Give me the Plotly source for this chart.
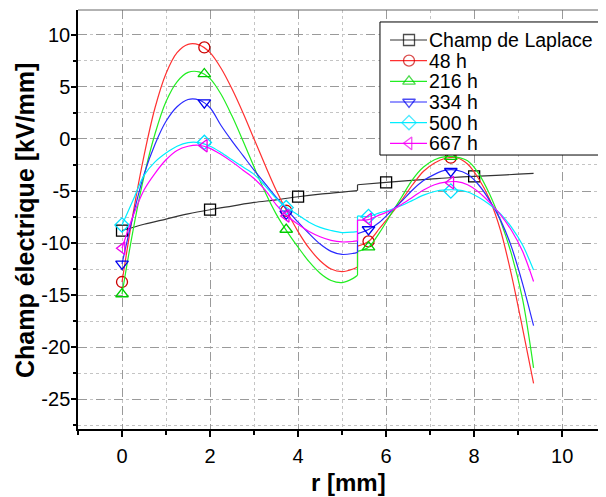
import plotly.graph_objects as go

# ---------------- data ----------------
r_left = [0, 0.25, 0.5, 0.75, 1.0, 1.25, 1.5, 1.75, 2.0, 2.25, 2.5, 2.75, 3.0,
          3.25, 3.5, 3.75, 4.0, 4.25, 4.5, 4.75, 5.0, 5.25, 5.35]
r_right = [5.35, 5.6, 5.85, 6.1, 6.35, 6.6, 6.85, 7.1, 7.35, 7.6, 7.85, 8.1,
           8.35, 8.6, 8.85, 9.1, 9.35]

e48_left = [-13.75, -7.2, -1.6, 3.0, 6.3, 8.3, 9.1, 9.05, 8.3, 6.8, 4.8, 2.5, 0.0,
            -2.5, -4.9, -7.0, -8.9, -10.5, -11.7, -12.5, -12.75, -12.5, -12.3]
e48_right = [-10.3, -9.85, -8.6, -7.3, -5.9, -4.4, -3.1, -2.3, -1.85, -1.8, -2.4, -3.8,
             -5.8, -8.8, -13.1, -18.2, -23.5]

e216_left = [-14.9, -8.8, -3.6, 0.5, 3.6, 5.5, 6.4, 6.45, 5.8, 4.3, 2.2, -0.2, -2.7,
             -5.1, -7.2, -8.9, -10.4, -11.8, -12.9, -13.6, -13.8, -13.4, -13.1]
e216_right = [-10.8, -10.4, -9.0, -7.3, -5.6, -3.9, -2.7, -2.0, -1.7, -1.75, -2.1, -3.3,
              -5.3, -7.9, -11.1, -15.4, -22.0]

e334_left = [-12.0, -7.4, -3.4, -0.5, 1.7, 3.1, 3.8, 3.75, 3.0, 1.3, -0.2, -1.6, -3.0,
             -4.3, -5.6, -6.8, -8.0, -9.1, -10.1, -10.8, -11.1, -11.0, -10.9]
e334_right = [-9.1, -8.7, -8.0, -7.0, -6.0, -4.9, -4.0, -3.4, -3.0, -3.0, -3.4, -4.4,
              -5.9, -7.8, -10.4, -13.9, -17.95]

e500_left = [-8.27, -5.9, -3.5, -2.2, -1.35, -0.7, -0.35, -0.35, -0.7, -1.3, -2.0, -2.7,
             -3.4, -4.5, -5.7, -6.6, -7.3, -8.0, -8.5, -8.8, -9.0, -8.95, -8.9]
e500_right = [-7.4, -7.45, -7.1, -6.8, -6.4, -5.9, -5.4, -5.05, -4.9, -4.9, -5.1, -5.6,
              -6.3, -7.2, -8.5, -10.2, -12.6]

e667_left = [-10.5, -7.4, -4.9, -3.3, -2.0, -1.1, -0.7, -0.6, -0.9, -1.5, -2.2, -3.0,
             -3.8, -4.9, -6.3, -7.4, -8.2, -8.9, -9.4, -9.75, -9.9, -9.85, -9.8]
e667_right = [-7.8, -7.75, -7.3, -6.9, -6.3, -5.6, -4.9, -4.4, -4.15, -4.1, -4.4, -5.1,
              -6.1, -7.3, -8.8, -10.8, -13.7]

r_lap_left = [0, 0.5, 1.0, 1.5, 2.0, 2.5, 3.0, 3.5, 4.0, 4.5, 5.0, 5.35]
lap_left = [-8.8, -8.2, -7.7, -7.2, -6.8, -6.45, -6.1, -5.85, -5.55, -5.3, -5.1, -4.95]
r_lap_right = [5.35, 6.0, 6.5, 7.0, 7.5, 8.0, 8.5, 9.0, 9.35]
lap_right = [-4.4, -4.17, -4.0, -3.85, -3.7, -3.6, -3.5, -3.38, -3.3]

# marker positions
r_marks = [0, 1.87, 3.73, 5.6, 7.47]
m48 = [-13.75, 8.8, -6.9, -9.85, -1.8]
m216 = [-14.9, 6.25, -8.7, -10.4, -1.7]
m334 = [-12.0, 3.5, -7.2, -8.7, -3.1]
m500 = [-8.27, -0.33, -6.6, -7.45, -5.0]
m667 = [-10.5, -0.65, -7.4, -7.75, -4.2]
r_lap_marks = [0, 2, 4, 6, 8]
lap_marks = [-8.8, -6.8, -5.55, -4.17, -3.6]

x_ticks = [0, 2, 4, 6, 8, 10]
y_ticks = [-25, -20, -15, -10, -5, 0, 5, 10]
y_ticklabels = ["-25", "-20", "-15", "-10", "-5", "0", "5", "10"]

# ---------------- figure ----------------
series = [
    ("Champ de Laplace", r_lap_left, lap_left, r_lap_right, lap_right,
     r_lap_marks, lap_marks, "#333333", "#000000", "square-open"),
    ("48 h", r_left, e48_left, r_right, e48_right, r_marks, m48,
     "#ff3030", "#cc0000", "circle-open"),
    ("216 h", r_left, e216_left, r_right, e216_right, r_marks, m216,
     "#22ee22", "#00cc00", "triangle-up-open"),
    ("334 h", r_left, e334_left, r_right, e334_right, r_marks, m334,
     "#2a2aff", "#0000ee", "triangle-down-open"),
    ("500 h", r_left, e500_left, r_right, e500_right, r_marks, m500,
     "#00eeff", "#00e0ff", "diamond-open"),
    ("667 h", r_left, e667_left, r_right, e667_right, r_marks, m667,
     "#ff00ff", "#ee00ee", "triangle-left-open"),
]

FONT = "Liberation Sans, Arial, sans-serif"
fig = go.Figure()
for name, xl, yl, xr, yr, xm, ym, lc, mc, sym in series:
    xs = list(xl) + [None, xl[-1], xr[0], None] + list(xr)
    ys = list(yl) + [None, yl[-1], yr[0], None] + list(yr)
    fig.add_trace(go.Scatter(
        x=xs, y=ys, mode="lines", name=name,
        line=dict(color=lc, width=1.2, shape="spline", smoothing=0.9),
        connectgaps=False, showlegend=False, hoverinfo="skip"))
    fig.add_trace(go.Scatter(
        x=xm, y=ym, mode="markers", name=name, showlegend=False,
        marker=dict(symbol=sym, size=11, color=mc, line=dict(color=mc, width=1.3))))

# ---- legend drawn on an overlay axis (fractions of the plot area) ----
box_x0, box_x1, box_y0, box_y1 = 0.5741, 0.9981, 0.6539, 0.9714
row_y0, row_step = (421 - 32) / 419, 20.66 / 419
sym_x0, sym_xm, sym_x1, text_x = 0.5932, 0.6293, 0.6635, 0.6640

fig.add_trace(go.Scatter(
    x=[box_x0, box_x1, box_x1, box_x0, box_x0], y=[box_y0, box_y0, box_y1, box_y1, box_y0],
    xaxis="x2", yaxis="y2", mode="lines", fill="toself", fillcolor="white",
    line=dict(color="#000", width=1), showlegend=False, hoverinfo="skip"))
annotations = []
for i, (name, *_rest, lc, mc, sym) in enumerate(series):
    yy = row_y0 - i * row_step
    fig.add_trace(go.Scatter(
        x=[sym_x0, sym_xm, sym_x1], y=[yy, yy, yy], xaxis="x2", yaxis="y2",
        mode="lines+markers", line=dict(color=lc, width=1.2),
        marker=dict(symbol=sym, size=[0, 11, 0], color=mc, line=dict(color=mc, width=1.3)),
        showlegend=False, hoverinfo="skip"))
    annotations.append(dict(x=text_x, y=yy, xref="x2", yref="y2", text=name, showarrow=False,
                            xanchor="left", yanchor="middle",
                            font=dict(family=FONT, size=19.5, color="#000")))

annotations.append(dict(x=0.5143, y=-0.127, xref="paper", yref="paper", text="<b>r [mm]</b>",
                        showarrow=False, xanchor="center", yanchor="middle",
                        font=dict(family=FONT, size=24, color="#000")))
annotations.append(dict(x=-0.1008, y=0.4988, xref="paper", yref="paper",
                        text="<b>Champ électrique [kV/mm]</b>", textangle=-90,
                        showarrow=False, xanchor="center", yanchor="middle",
                        font=dict(family=FONT, size=25, color="#000")))

tick_font = dict(family=FONT, size=20, color="#000")

fig.update_layout(
    width=598, height=489, autosize=False,
    margin=dict(l=70, r=2, t=2, b=68),
    paper_bgcolor="white", plot_bgcolor="white",
    showlegend=False,
    annotations=annotations,
    xaxis=dict(range=[-1, 10.95], tickmode="array", tickvals=x_ticks, automargin=False,
               showline=True, linecolor="#000", linewidth=1.5,
               ticks="outside", ticklen=6, tickcolor="#000", tickwidth=1.5,
               ticklabelstandoff=2,
               showgrid=True, gridcolor="#9a9a9a", griddash="dash", gridwidth=1,
               minor=dict(dtick=1, tick0=0, ticks="outside", ticklen=4, tickcolor="#000",
                          showgrid=True, gridcolor="#c4c4c4", griddash="dot", gridwidth=1),
               zeroline=False, tickfont=tick_font),
    yaxis=dict(range=[-27.88, 12.4], tickmode="array", tickvals=y_ticks,
               ticktext=y_ticklabels, automargin=False,
               showline=True, linecolor="#000", linewidth=1.5,
               ticks="outside", ticklen=5, tickcolor="#000", tickwidth=1.5,
               ticklabelstandoff=-3,
               showgrid=True, gridcolor="#9a9a9a", griddash="dash", gridwidth=1,
               minor=dict(dtick=2.5, tick0=0, ticks="outside", ticklen=3, tickcolor="#000",
                          showgrid=True, gridcolor="#c4c4c4", griddash="dot", gridwidth=1),
               zeroline=False, tickfont=tick_font),
    xaxis2=dict(overlaying="x", range=[0, 1], visible=False, fixedrange=True),
    yaxis2=dict(overlaying="y", range=[0, 1], visible=False, fixedrange=True),
    shapes=[
        dict(type="line", xref="paper", yref="paper", x0=0, x1=1, y0=1, y1=1,
             line=dict(color="#666666", width=1)),
        dict(type="line", xref="paper", yref="paper", x0=1, x1=1, y0=0, y1=1,
             line=dict(color="#666666", width=1)),
    ],
)

fig.write_html("out.html")
